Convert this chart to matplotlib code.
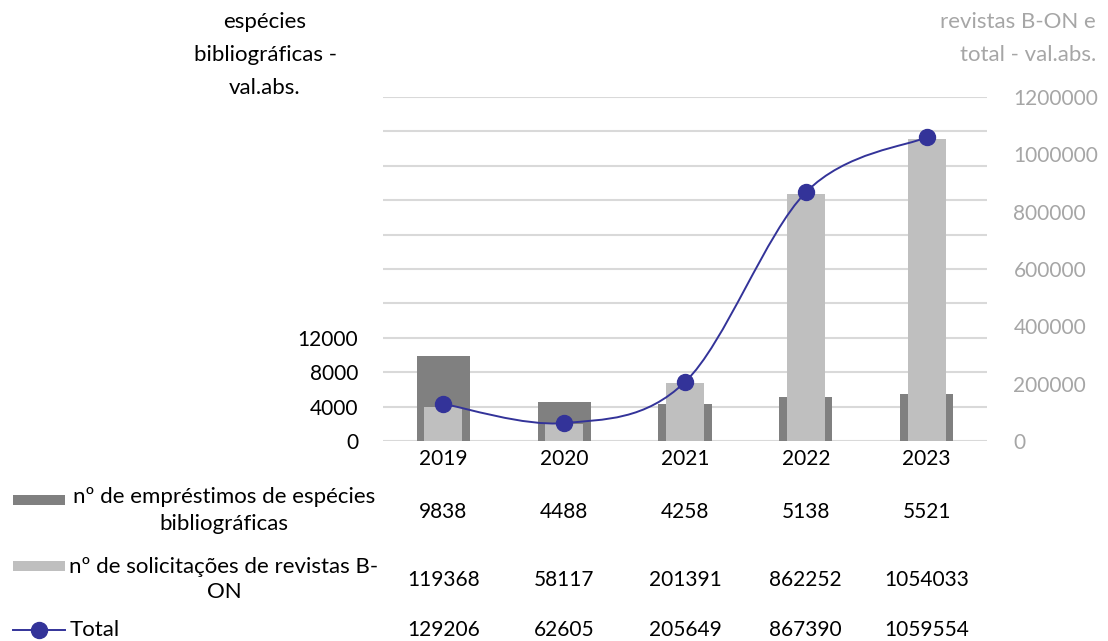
import numpy as np
import matplotlib
matplotlib.use("Agg")
import matplotlib.pyplot as plt
from matplotlib.path import Path
from matplotlib.patches import PathPatch, Rectangle
from matplotlib.lines import Line2D
import matplotlib.transforms as mtransforms

plt.rcParams['font.family'] = ['Lato', 'DejaVu Sans']

years = ['2019', '2020', '2021', '2022', '2023']
emprestimos = [9838, 4488, 4258, 5138, 5521]
solicitacoes = [119368, 58117, 201391, 862252, 1054033]
total = [129206, 62605, 205649, 867390, 1059554]

left_ticks = [0, 4000, 8000, 12000]
right_ticks = [0, 200000, 400000, 600000, 800000, 1000000, 1200000]

DARK = '#808080'
LIGHT = '#BFBFBF'
LINEC = '#333399'
GRID = '#D9D9D9'
GREY_TXT = '#A6A6A6'
FS = 15
FS_TXT = 16

W, H = 1108, 641
fig = plt.figure(figsize=(W / 100, H / 100), dpi=100)
ax = fig.add_axes([383 / W, 1 - 441 / H, (987 - 383) / W, (441 - 97) / H])
ax2 = ax.twinx()

x = np.arange(len(years))

# left axis: dark bars
ax.bar(x, emprestimos, width=0.44, color=DARK, zorder=2)
ax.set_ylim(0, 40000)
ax.set_xlim(-0.5, len(years) - 0.5)
grid_vals = np.arange(0, 40001, 4000)
ax.set_yticks(grid_vals)
ax.set_yticklabels([str(v) if v in left_ticks else '' for v in grid_vals], fontsize=FS)
ax.yaxis.grid(True, color=GRID, linewidth=1.5)
ax.set_axisbelow(True)
ax.set_xticks(x)
ax.set_xticklabels(years, fontsize=FS)
ax.tick_params(axis='both', length=0)
ax.tick_params(axis='x', pad=6)
ax.tick_params(axis='y', pad=18)

# right axis: light bars + smoothed total line
ax2.bar(x, solicitacoes, width=0.315, color=LIGHT, zorder=2)
ax2.set_ylim(0, 1200000)
ax2.set_yticks(right_ticks)
ax2.set_yticklabels([str(v) for v in right_ticks], fontsize=FS, color=GREY_TXT)
ax2.tick_params(axis='y', length=0, pad=19)

pts = np.column_stack([x, total]).astype(float)
ext = np.vstack([pts[0], pts, pts[-1]])
verts = [tuple(pts[0])]
codes = [Path.MOVETO]
for i in range(len(pts) - 1):
    p0, p1, p2, p3 = ext[i], ext[i + 1], ext[i + 2], ext[i + 3]
    c1 = p1 + (p2 - p0) / 6.0
    c2 = p2 - (p3 - p1) / 6.0
    verts += [tuple(c1), tuple(c2), tuple(p2)]
    codes += [Path.CURVE4] * 3
ax2.add_patch(PathPatch(Path(verts, codes), facecolor='none', edgecolor=LINEC,
                        linewidth=1.4, zorder=3))
ax2.plot(x, total, linestyle='none', marker='o', markersize=11.5, color=LINEC, zorder=4)

for a in (ax, ax2):
    for s in a.spines.values():
        s.set_visible(False)

# axis titles
def fy(py):
    return 1 - py / H

for txt, py in [('espécies', 22), ('bibliográficas -', 55), ('val.abs.', 88)]:
    fig.text(265 / W, fy(py), txt, ha='center', va='center', fontsize=FS_TXT, color='black')
for txt, py in [('revistas B-ON e', 22), ('total - val.abs.', 55)]:
    fig.text(1096 / W, fy(py), txt, ha='right', va='center', fontsize=FS_TXT, color=GREY_TXT)

# data table
trans = mtransforms.blended_transform_factory(ax.transData, fig.transFigure)
rows = [(emprestimos, 512), (solicitacoes, 580), (total, 630)]
for vals, py in rows:
    for xi, v in zip(x, vals):
        fig.text(xi, fy(py), str(v), transform=trans, ha='center', va='center', fontsize=FS)

fig.text(224 / W, fy(497), 'nº de empréstimos de espécies', ha='center', va='center', fontsize=FS_TXT)
fig.text(224 / W, fy(524), 'bibliográficas', ha='center', va='center', fontsize=FS_TXT)
fig.text(224 / W, fy(567), 'nº de solicitações de revistas B-', ha='center', va='center', fontsize=FS_TXT)
fig.text(224 / W, fy(592), 'ON', ha='center', va='center', fontsize=FS_TXT)
fig.text(70 / W, fy(630), 'Total', ha='left', va='center', fontsize=FS_TXT)

fig.patches.append(Rectangle((13 / W, fy(505)), 52 / W, 10 / H, transform=fig.transFigure,
                             facecolor=DARK, edgecolor='none'))
fig.patches.append(Rectangle((13 / W, fy(571)), 52 / W, 10 / H, transform=fig.transFigure,
                             facecolor=LIGHT, edgecolor='none'))
fig.lines.append(Line2D([13 / W, 65 / W], [fy(630), fy(630)], transform=fig.transFigure,
                        color=LINEC, linewidth=1.4))
fig.lines.append(Line2D([39 / W], [fy(630)], transform=fig.transFigure, marker='o',
                        markersize=11.5, color=LINEC))

fig.savefig('out.png', dpi=100)
